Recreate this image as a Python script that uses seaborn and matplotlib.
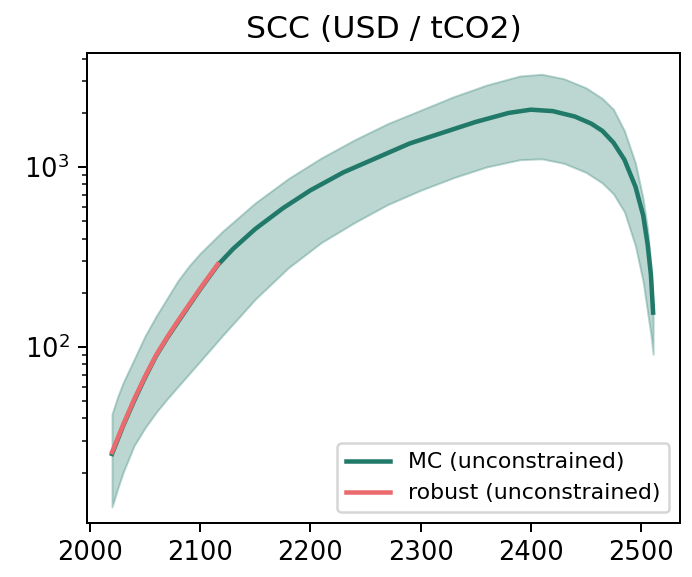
import numpy as np
import pandas as pd
import matplotlib
matplotlib.use("Agg")
import matplotlib.pyplot as plt
import seaborn as sns

# ---- data ----
mc_years = [2020, 2030, 2040, 2050, 2060, 2070, 2080, 2090, 2100, 2116, 2130,
            2150, 2175, 2200, 2230, 2260, 2290, 2320, 2350, 2380, 2400, 2420,
            2440, 2455, 2465, 2475, 2485, 2495, 2502, 2506, 2509, 2511]
mc_mean = [25.4, 36.3, 50.1, 67.6, 89.1, 112, 138, 170, 209, 285, 351,
           452, 589, 741, 933, 1122, 1349, 1549, 1778, 1995, 2080, 2042,
           1905, 1738, 1585, 1365, 1096, 776, 537, 372, 251, 155]

band_years = [2020, 2025, 2030, 2040, 2050, 2060, 2070, 2080, 2090, 2100, 2120,
              2150, 2180, 2210, 2240, 2270, 2300, 2330, 2360, 2390, 2410, 2430,
              2450, 2465, 2475, 2485, 2495, 2502, 2506, 2509, 2511]
band_upper = [42.3, 52.5, 63.1, 85.1, 115, 148, 186, 234, 282, 331, 437,
              631, 861, 1122, 1413, 1738, 2065, 2455, 2851, 3199, 3273, 3090,
              2754, 2399, 2089, 1585, 1047, 661, 447, 282, 166]
band_lower = [12.9, 16.2, 20.0, 28.2, 35.5, 43.2, 51.3, 60.3, 70.8, 83.2, 115,
              184, 275, 380, 490, 617, 741, 871, 1000, 1096, 1109, 1047,
              933, 813, 708, 562, 363, 229, 155, 117, 91]

robust_years = [2020, 2030, 2040, 2050, 2060, 2070, 2080, 2090, 2100, 2116]
robust_vals = [26.0, 36.8, 51.0, 68.5, 90.0, 113, 140, 172, 211, 288]

mc_label = "MC (unconstrained)"
robust_label = "robust (unconstrained)"
title = "SCC (USD / tCO2)"

mc_color = "#217a69"
robust_color = "#ea6a6d"

# ---- figure ----
fig = plt.figure(figsize=(692 / 180, 577 / 180), dpi=180)
ax = fig.add_axes([87 / 692, 54 / 577, (680 - 87) / 692, (523 - 53) / 577])

ax.fill_between(band_years, band_lower, band_upper, color=mc_color,
                alpha=0.3, linewidth=0.8)

df_mc = pd.DataFrame({"year": mc_years, "scc": mc_mean})
df_rb = pd.DataFrame({"year": robust_years, "scc": robust_vals})
sns.lineplot(data=df_mc, x="year", y="scc", ax=ax, color=mc_color,
             linewidth=1.8, label=mc_label)
sns.lineplot(data=df_rb, x="year", y="scc", ax=ax, color=robust_color,
             linewidth=1.8, label=robust_label)

ax.set_yscale("log")
ax.set_xlim(1997.3, 2535.4)
ax.set_ylim(10.5, 4295)
ax.set_xticks([2000, 2100, 2200, 2300, 2400, 2500])
ax.tick_params(labelsize=10.3)
ax.set_xlabel("")
ax.set_ylabel("")
ax.set_title(title, fontsize=12.6)
ax.legend(loc="lower right", fontsize=8.8)

fig.savefig("out.png", dpi=180)
